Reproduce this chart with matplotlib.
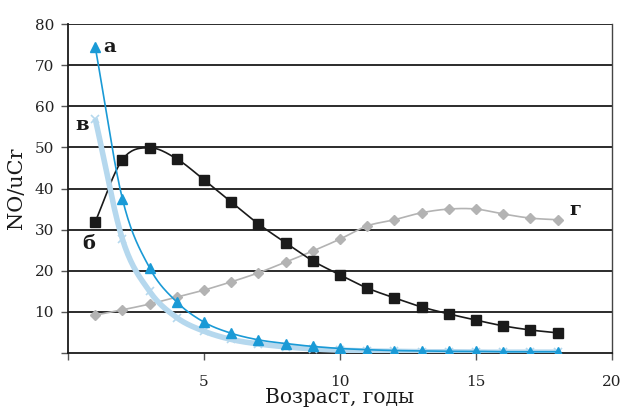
import numpy as np
import matplotlib
matplotlib.use("Agg")
import matplotlib.pyplot as plt

# Возраст, годы
age = [1, 2, 3, 4, 5, 6, 7, 8, 9, 10, 11, 12, 13, 14, 15, 16, 17, 18]

# NO/uCr по группам
series_a = [74.5, 37.5, 20.7, 12.4, 7.5, 4.8, 3.2, 2.3, 1.6, 1.1, 0.8, 0.6, 0.5, 0.4, 0.4, 0.3, 0.3, 0.3]
series_b = [31.9, 47.0, 49.9, 47.2, 42.1, 36.7, 31.4, 26.8, 22.4, 19.0, 15.8, 13.4, 11.2, 9.5, 8.0, 6.6, 5.6, 4.9]
series_v = [57.0, 27.7, 15.0, 8.6, 5.3, 3.3, 2.2, 1.5, 1.0, 0.7, 0.5, 0.4, 0.3, 0.3, 0.2, 0.2, 0.2, 0.2]
series_g = [9.2, 10.5, 11.9, 13.6, 15.3, 17.3, 19.5, 22.1, 24.8, 27.7, 30.9, 32.4, 34.1, 35.0, 35.0, 33.8, 32.8, 32.4]

x_ticks = [0, 5, 10, 15, 20]
x_tick_labels = ["", "5", "10", "15", "20"]
y_ticks = [0, 10, 20, 30, 40, 50, 60, 70, 80]
y_tick_labels = ["", "10", "20", "30", "40", "50", "60", "70", "80"]


def smooth(x, y, n=20):
    """Catmull-Rom curve through the given points."""
    x = np.asarray(x, float)
    y = np.asarray(y, float)
    px = np.concatenate([[2 * x[0] - x[1]], x, [2 * x[-1] - x[-2]]])
    py = np.concatenate([[2 * y[0] - y[1]], y, [2 * y[-1] - y[-2]]])
    xs, ys = [], []
    t = np.linspace(0, 1, n, endpoint=False)
    for i in range(1, len(px) - 2):
        for P, out in ((px, xs), (py, ys)):
            p0, p1, p2, p3 = P[i - 1], P[i], P[i + 1], P[i + 2]
            out.extend(0.5 * ((2 * p1) + (-p0 + p2) * t
                              + (2 * p0 - 5 * p1 + 4 * p2 - p3) * t ** 2
                              + (-p0 + 3 * p1 - 3 * p2 + p3) * t ** 3))
    xs.append(x[-1])
    ys.append(y[-1])
    return np.array(xs), np.array(ys)


plt.rcParams["font.family"] = ["DejaVu Serif"]

fig = plt.figure(figsize=(6.21, 4.09), dpi=100)
ax = fig.add_axes([68 / 621, 1 - 353 / 409, (612 - 68) / 621, (353 - 24) / 409])

ax.set_xlim(0, 20)
ax.set_ylim(0, 80)

for yv in y_ticks[1:]:
    ax.axhline(yv, color="#1a1a1a", lw=1.3, zorder=1)

blue = "#1a9ad6"
light = "#b5d8ee"
gray = "#b3b3b3"
black = "#1a1a1a"

# г
sx, sy = smooth(age, series_g)
ax.plot(sx, sy, color=gray, lw=1.2, zorder=2)
ax.plot(age, series_g, ls="none", marker="D", ms=5.5, color=gray, zorder=3)

# б
sx, sy = smooth(age, series_b)
ax.plot(sx, sy, color=black, lw=1.2, zorder=4)
ax.plot(age, series_b, ls="none", marker="s", ms=7, color=black, zorder=5)

# в
sx, sy = smooth(age, series_v)
ax.plot(sx, sy, color=light, lw=4, solid_capstyle="butt", zorder=6)
ax.plot(age, series_v, ls="none", marker="x", ms=6, mew=1.2, color=light, zorder=7)

# а
sx, sy = smooth(age, series_a)
ax.plot(sx, sy, color=blue, lw=1.2, zorder=8)
ax.plot(age, series_a, ls="none", marker="^", ms=7, color=blue, zorder=9)

lbl = dict(fontsize=14, fontweight="bold", color=black)
ax.text(age[0] + 0.3, series_a[0], "а", ha="left", va="center", **lbl)
ax.text(age[0] - 0.25, series_b[0] - 5.5, "б", ha="center", va="center", **lbl)
ax.text(age[0] - 0.5, series_v[0] - 1.5, "в", ha="center", va="center", **lbl)
ax.text(age[-1] + 0.65, series_g[-1] + 2.4, "г", ha="center", va="center", **lbl)

ax.set_xticks(x_ticks)
ax.set_xticklabels(x_tick_labels)
ax.set_yticks(y_ticks)
ax.set_yticklabels(y_tick_labels)
ax.tick_params(axis="both", direction="out", length=5, width=1, color="#555555",
               labelsize=11, labelcolor="#222222")
ax.tick_params(axis="x", pad=11)
ax.tick_params(axis="y", pad=5)

for side in ("left", "bottom"):
    ax.spines[side].set_color(black)
    ax.spines[side].set_linewidth(1.3)
ax.spines["right"].set_color("#444444")
ax.spines["right"].set_linewidth(1.0)
ax.spines["top"].set_visible(False)

ax.set_xlabel("Возраст, годы", fontsize=14.5, color=black, labelpad=-1)
ax.set_ylabel("NO/uCr", fontsize=15, color=black, labelpad=6)

fig.savefig("out.png", dpi=100)
